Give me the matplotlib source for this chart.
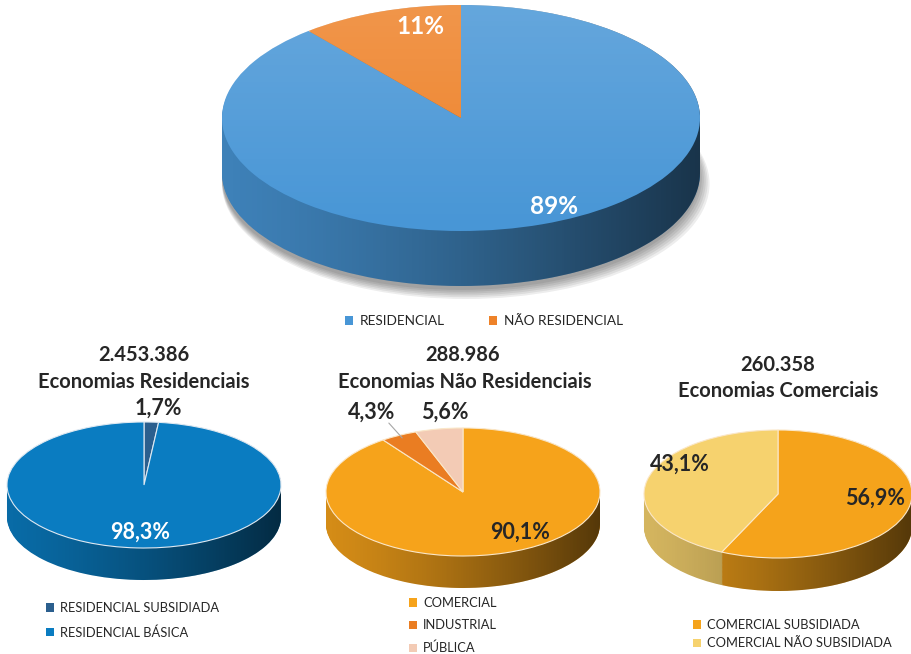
import numpy as np
import matplotlib.pyplot as plt
from matplotlib.colors import to_rgb
from matplotlib.path import Path
from matplotlib.patches import PathPatch, Patch

plt.rcParams['font.family'] = ['Lato', 'DejaVu Sans']

# dados
tot_labels = ['RESIDENCIAL', 'NÃO RESIDENCIAL']
tot_vals = [89, 11]
tot_cols = ['#4896d6', '#ee8229']

res_labels = ['RESIDENCIAL SUBSIDIADA', 'RESIDENCIAL BÁSICA']
res_vals = [1.7, 98.3]
res_cols = ['#2b5f8e', '#0a7cc1']
res_total = '2.453.386'

nres_labels = ['COMERCIAL', 'INDUSTRIAL', 'PÚBLICA']
nres_vals = [90.1, 4.3, 5.6]
nres_cols = ['#f6a31b', '#ea7d22', '#f3cbb5']
nres_total = '288.986'

com_labels = ['COMERCIAL SUBSIDIADA', 'COMERCIAL NÃO SUBSIDIADA']
com_vals = [56.9, 43.1]
com_cols = ['#f5a31b', '#f6d26e']
com_total = '260.358'

W, H = 911, 654
TXT = '#262626'
fig = plt.figure(figsize=(W / 100, H / 100), dpi=100)


def fx(x):
    return x / W


def fy(y):
    return 1 - y / H


def pie3d(cx, cy, a, b, d, vals, cols, edge='none', brilho=False, sombra=False):
    # eixo em pixels: elipse de semi-eixos a, b e espessura d
    ax = fig.add_axes([fx(cx - a - 6), fy(cy + b + d + 8), (2 * a + 12) / W, (2 * b + d + 8) / H])
    dd = d / b
    ex = 6 / a
    ey = 8 / b
    if sombra:
        for k in range(6):
            ax.pie([1], colors=['#000000'], radius=1.0 + 0.004 * k,
                   center=(0.004 * k, -dd - 0.035 - 0.012 * k),
                   wedgeprops=dict(linewidth=0, alpha=0.07, zorder=0.5))
    side = [tuple(c * 0.86 for c in to_rgb(col)) for col in cols]
    n = 40
    for k in range(n, 0, -1):
        ax.pie(vals, colors=side, startangle=90, counterclock=False,
               center=(0, -dd * k / n), wedgeprops=dict(linewidth=0, zorder=1))
    # sombreamento lateral (esquerda clara -> direita escura)
    t1 = np.linspace(0, np.pi, 100)
    t2 = np.linspace(np.pi, 2 * np.pi, 100)
    xs = np.r_[np.cos(t1), np.cos(t2)]
    ys = np.r_[np.sin(t1), np.sin(t2) - dd]
    clip = PathPatch(Path(np.c_[xs, ys]), transform=ax.transData,
                     facecolor='none', edgecolor='none')
    ax.add_patch(clip)
    grad = np.zeros((1, 256, 4))
    grad[..., 3] = 0.6 * np.linspace(0.0, 1.0, 256) ** 1.3
    im = ax.imshow(grad, extent=(-1, 1, -1 - dd, 1), aspect='auto', zorder=2,
                   interpolation='bilinear')
    im.set_clip_path(clip)
    ax.pie(vals, colors=cols, startangle=90, counterclock=False,
           wedgeprops=dict(linewidth=0.8, edgecolor=edge, zorder=3))
    if brilho:
        t = np.linspace(0, 2 * np.pi, 200)
        topo = PathPatch(Path(np.c_[np.cos(t), np.sin(t)]), transform=ax.transData,
                         facecolor='none', edgecolor='none')
        ax.add_patch(topo)
        g2 = np.ones((256, 1, 4))
        g2[..., 3] = np.linspace(0.16, 0.0, 256)[:, None]
        im2 = ax.imshow(g2, extent=(-1, 1, -1, 1), aspect='auto', zorder=4,
                        interpolation='bilinear')
        im2.set_clip_path(topo)
    ax.set_aspect('auto')
    ax.set_xlim(-1 - ex, 1 + ex)
    ax.set_ylim(-1 - dd - ey, 1)
    ax.axis('off')
    return ax


def txt(x, y, s, size=14.5, color=TXT, weight='bold', **kw):
    fig.text(fx(x), fy(y), s, ha='center', va='center', fontsize=size,
             color=color, fontweight=weight, zorder=5, **kw)


def legenda(labels, cols, x, y, ncol=1, spacing=0.6, colsp=2.0, loc='upper left', fs=9.3):
    hs = [Patch(facecolor=c, edgecolor='none') for c in cols]
    fig.legend(hs, labels, loc=loc, bbox_to_anchor=(fx(x), fy(y)), ncol=ncol,
               frameon=False, fontsize=fs, handlelength=0.6, handleheight=0.6,
               handletextpad=0.5, labelspacing=spacing, columnspacing=colsp,
               borderaxespad=0, borderpad=0, labelcolor=TXT)


# pizza principal
pie3d(461, 118, 239, 113, 55, tot_vals, tot_cols, brilho=True, sombra=True)
txt(420, 26, '11%', size=17.5, color='white')
txt(554, 206, '89%', size=17.5, color='white')
legenda(tot_labels, tot_cols, 484, 321, ncol=2, colsp=3.2, loc='center', fs=9.8)

# residenciais
pie3d(144, 485, 137, 63, 32, res_vals, res_cols, edge='#dfe9f2')
txt(144, 355, res_total)
txt(144, 382, 'Economias Residenciais')
txt(158, 408, '1,7%', size=15.5)
txt(140, 532, '98,3%', size=15.5, color='white')
legenda(res_labels, res_cols, 46, 602, spacing=0.95)

# não residenciais
ax2 = pie3d(463, 492, 137, 64, 32, nres_vals, nres_cols, edge='#fbe7c8')
txt(463, 355, nres_total)
txt(465, 382, 'Economias Não Residenciais')
ang = np.deg2rad(90 - 360 * (nres_vals[0] + nres_vals[1] / 2) / 100)
ax2.annotate('', xy=(0.92 * np.cos(ang), 0.92 * np.sin(ang)), xycoords='data',
             xytext=(fx(387), fy(421)), textcoords='figure fraction',
             arrowprops=dict(arrowstyle='-', color='#a6a6a6', lw=0.8))
txt(372, 412, '4,3%', size=15.5)
txt(445, 412, '5,6%', size=15.5)
txt(520, 532, '90,1%', size=15.5)
legenda(nres_labels, nres_cols, 409, 597, spacing=0.8)

# comerciais
pie3d(778, 494, 134, 64, 33, com_vals, com_cols, edge='#fbe7c8')
txt(778, 365, com_total)
txt(778, 391, 'Economias Comerciais')
txt(680, 464, '43,1%', size=15.5)
txt(875, 498, '56,9%', size=15.5)
legenda(com_labels, com_cols, 693, 619, spacing=0.5)

fig.savefig('out.png', dpi=100, facecolor='white')
